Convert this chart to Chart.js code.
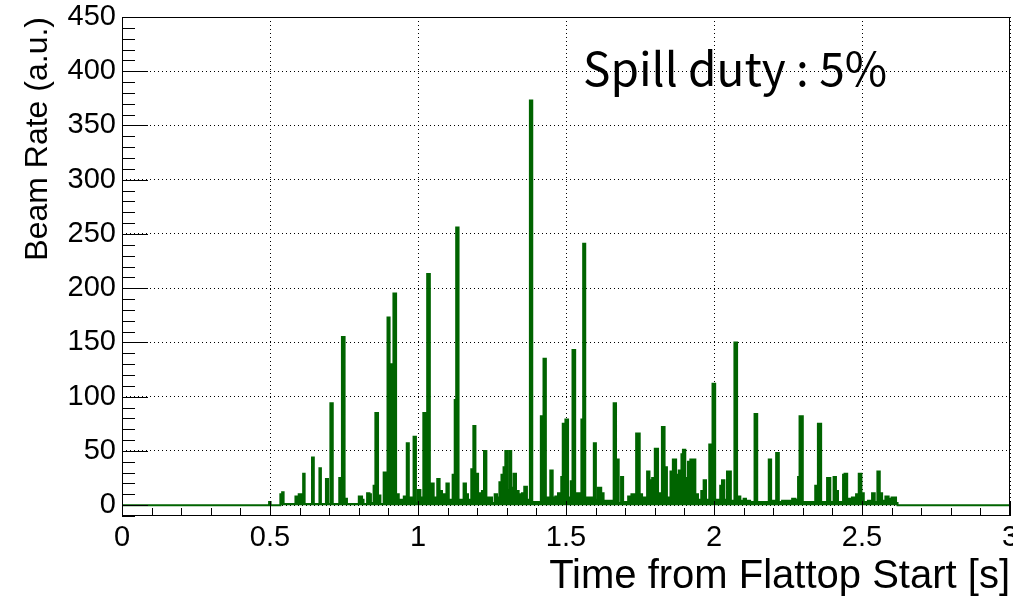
<!DOCTYPE html>
<html>
<head>
<meta charset="utf-8">
<title>Beam Rate</title>
<script src="https://cdn.jsdelivr.net/npm/chart.js"></script>
<style>
    html, body {
        margin: 0;
        padding: 0;
        background-color: #ffffff;
    }
</style>
</head>
<body>
<canvas id="beamChart" width="1013" height="602"></canvas>
<script>
    // step points of the histogram: value holds from times[i] until times[i+1]
    var times = [
        0, 0.497, 0.502, 0.535, 0.541, 0.546, 0.586, 0.597, 0.608, 0.612, 0.617,
        0.642, 0.648, 0.667, 0.672, 0.689, 0.696, 0.704, 0.712, 0.734, 0.743,
        0.752, 0.760, 0.800, 0.811, 0.816, 0.828, 0.836, 0.841, 0.850, 0.856,
        0.865, 0.873, 0.884, 0.897, 0.904, 0.911, 0.917, 0.926, 0.935, 0.952,
        0.960, 0.962, 0.969, 0.985, 0.993, 1.000, 1.008, 1.018, 1.025, 1.031,
        1.040, 1.053, 1.065, 1.073, 1.081, 1.096, 1.104, 1.117, 1.124, 1.129,
        1.137, 1.154, 1.162, 1.169, 1.180, 1.187, 1.194, 1.203, 1.216, 1.223,
        1.231, 1.250, 1.259, 1.267, 1.275, 1.282, 1.289, 1.295, 1.302, 1.309,
        1.315, 1.323, 1.331, 1.340, 1.351, 1.359, 1.368, 1.378, 1.386, 1.415,
        1.424, 1.432, 1.447, 1.455, 1.464, 1.473, 1.484, 1.489, 1.498, 1.507,
        1.516, 1.522, 1.531, 1.552, 1.558, 1.565, 1.594, 1.601, 1.608, 1.619,
        1.627, 1.661, 1.669, 1.678, 1.686, 1.693, 1.710, 1.721, 1.737, 1.749,
        1.757, 1.774, 1.782, 1.791, 1.800, 1.811, 1.824, 1.833, 1.841, 1.853,
        1.861, 1.872, 1.881, 1.890, 1.895, 1.903, 1.912, 1.920, 1.937, 1.946,
        1.957, 1.965, 1.973, 1.984, 1.995, 2.004, 2.021, 2.027, 2.035, 2.044,
        2.057, 2.069, 2.078, 2.089, 2.100, 2.108, 2.122, 2.137, 2.146, 2.185,
        2.193, 2.210, 2.219, 2.230, 2.264, 2.275, 2.284, 2.289, 2.300, 2.342,
        2.351, 2.362, 2.382, 2.393, 2.404, 2.412, 2.419, 2.436, 2.441, 2.450,
        2.455, 2.466, 2.480, 2.489, 2.498, 2.506, 2.520, 2.534, 2.543, 2.552,
        2.560, 2.568, 2.579, 2.590, 2.600, 2.615, 2.620, 3.000
    ];
    var rates = [
        0, 3, 0, 10, 12, 1, 8, 10, 3, 29, 1,
        44, 1, 34, 1, 24, 1, 94, 1, 25, 155,
        6, 1, 8, 5, 1, 11, 10, 2, 18, 85,
        9, 1, 30, 173, 130, 16, 195, 10, 5, 8,
        2, 57, 7, 63, 2, 14, 7, 85, 3, 213,
        20, 7, 24, 13, 10, 20, 5, 28, 97, 256,
        5, 20, 10, 5, 33, 73, 29, 11, 13, 50,
        7, 2, 10, 7, 21, 28, 35, 50, 14, 50,
        16, 29, 13, 10, 11, 17, 5, 373, 3, 82,
        135, 7, 32, 7, 8, 11, 26, 75, 79, 7,
        22, 143, 11, 79, 241, 7, 57, 5, 16, 11,
        4, 94, 42, 2, 26, 3, 8, 10, 66, 10,
        7, 31, 23, 25, 52, 11, 72, 35, 7, 31,
        42, 28, 32, 47, 51, 25, 40, 42, 10, 5,
        13, 23, 5, 56, 112, 5, 18, 23, 5, 31,
        4, 150, 8, 4, 6, 4, 3, 84, 3, 42,
        4, 48, 3, 4, 6, 5, 26, 82, 3, 18,
        75, 3, 25, 3, 26, 13, 3, 28, 29, 3,
        6, 7, 10, 29, 11, 3, 4, 11, 3, 31,
        11, 4, 8, 6, 7, 2, 0, 0
    ];
    var xTicks = [0, 0.5, 1, 1.5, 2, 2.5, 3];
    var yTicks = [0, 50, 100, 150, 200, 250, 300, 350, 400, 450];
    var xTitle = 'Time from Flattop Start [s]';
    var yTitle = 'Beam Rate (a.u.)';
    var noteText = 'Spill duty : 5%';

    var points = [];
    for (var i = 0; i < times.length; i++) {
        points.push({ x: times[i], y: rates[i] });
    }

    // ROOT style frame, inward ticks and the note
    var rootFrame = {
        id: 'rootFrame',
        afterDatasetsDraw: function(chart) {
            var ctx = chart.ctx;
            var a = chart.chartArea;
            var xs = chart.scales.x;
            var ys = chart.scales.y;
            ctx.save();
            ctx.strokeStyle = '#000000';
            ctx.lineWidth = 1;
            ctx.beginPath();
            for (var i = 0; i <= 30; i++) {
                var px = Math.round(xs.getPixelForValue(i / 10)) + 0.5;
                var len = (i % 5 === 0) ? 15 : 8;
                ctx.moveTo(px, a.bottom);
                ctx.lineTo(px, a.bottom - len);
            }
            for (var j = -1; j <= 45; j++) {
                var py = Math.round(ys.getPixelForValue(j * 10)) + 0.5;
                var ylen = (j % 5 === 0) ? 26 : 13;
                ctx.moveTo(a.left, py);
                ctx.lineTo(a.left + ylen, py);
            }
            ctx.stroke();
            ctx.strokeRect(a.left + 0.5, a.top + 0.5, a.right - a.left - 1, a.bottom - a.top - 1);

            ctx.font = '46px "Noto Sans CJK JP"';
            ctx.fillStyle = '#000000';
            ctx.textAlign = 'left';
            ctx.textBaseline = 'alphabetic';
            ctx.fillText(noteText, a.left + 461, 86);
            ctx.restore();
        }
    };

    var ctx = document.getElementById('beamChart').getContext('2d');
    var beamChart = new Chart(ctx, {
        type: 'line',
        data: {
            datasets: [{
                data: points,
                stepped: 'before',
                borderColor: '#006400',
                backgroundColor: '#006400',
                borderWidth: 2,
                pointRadius: 0,
                fill: 'origin'
            }]
        },
        options: {
            responsive: false,
            animation: false,
            layout: {
                padding: { top: 17, right: 3, bottom: 0, left: 0 }
            },
            plugins: {
                legend: { display: false },
                tooltip: { enabled: false }
            },
            scales: {
                x: {
                    type: 'linear',
                    min: 0,
                    max: 3,
                    afterBuildTicks: function(scale) {
                        scale.ticks = xTicks.map(function(v) { return { value: v }; });
                    },
                    afterFit: function(scale) {
                        scale.height = 86;
                        scale.paddingLeft = 0;
                        scale.paddingRight = 0;
                    },
                    ticks: {
                        maxRotation: 0,
                        autoSkip: false,
                        padding: 5,
                        color: '#000000',
                        font: { family: 'Liberation Sans', size: 29 },
                        callback: function(v) { return String(v); }
                    },
                    grid: {
                        color: '#000000',
                        lineWidth: 1,
                        drawTicks: false
                    },
                    border: { display: false, dash: [1, 3] },
                    title: {
                        display: true,
                        text: xTitle,
                        align: 'end',
                        color: '#000000',
                        font: { family: 'Liberation Sans', size: 40 },
                        padding: { top: 0, bottom: 1 }
                    }
                },
                y: {
                    type: 'linear',
                    min: -10,
                    max: 450,
                    afterBuildTicks: function(scale) {
                        scale.ticks = yTicks.map(function(v) { return { value: v }; });
                    },
                    afterFit: function(scale) {
                        scale.width = 122;
                        scale.paddingTop = 0;
                        scale.paddingBottom = 0;
                    },
                    ticks: {
                        padding: 6,
                        color: '#000000',
                        font: { family: 'Liberation Sans', size: 29 }
                    },
                    grid: {
                        color: '#000000',
                        lineWidth: 1,
                        drawTicks: false
                    },
                    border: { display: false, dash: [1, 3] },
                    title: {
                        display: true,
                        text: yTitle,
                        align: 'end',
                        color: '#000000',
                        font: { family: 'Liberation Sans', size: 32 },
                        padding: { top: 19, bottom: 0 }
                    }
                }
            }
        },
        plugins: [rootFrame]
    });
</script>
</body>
</html>
